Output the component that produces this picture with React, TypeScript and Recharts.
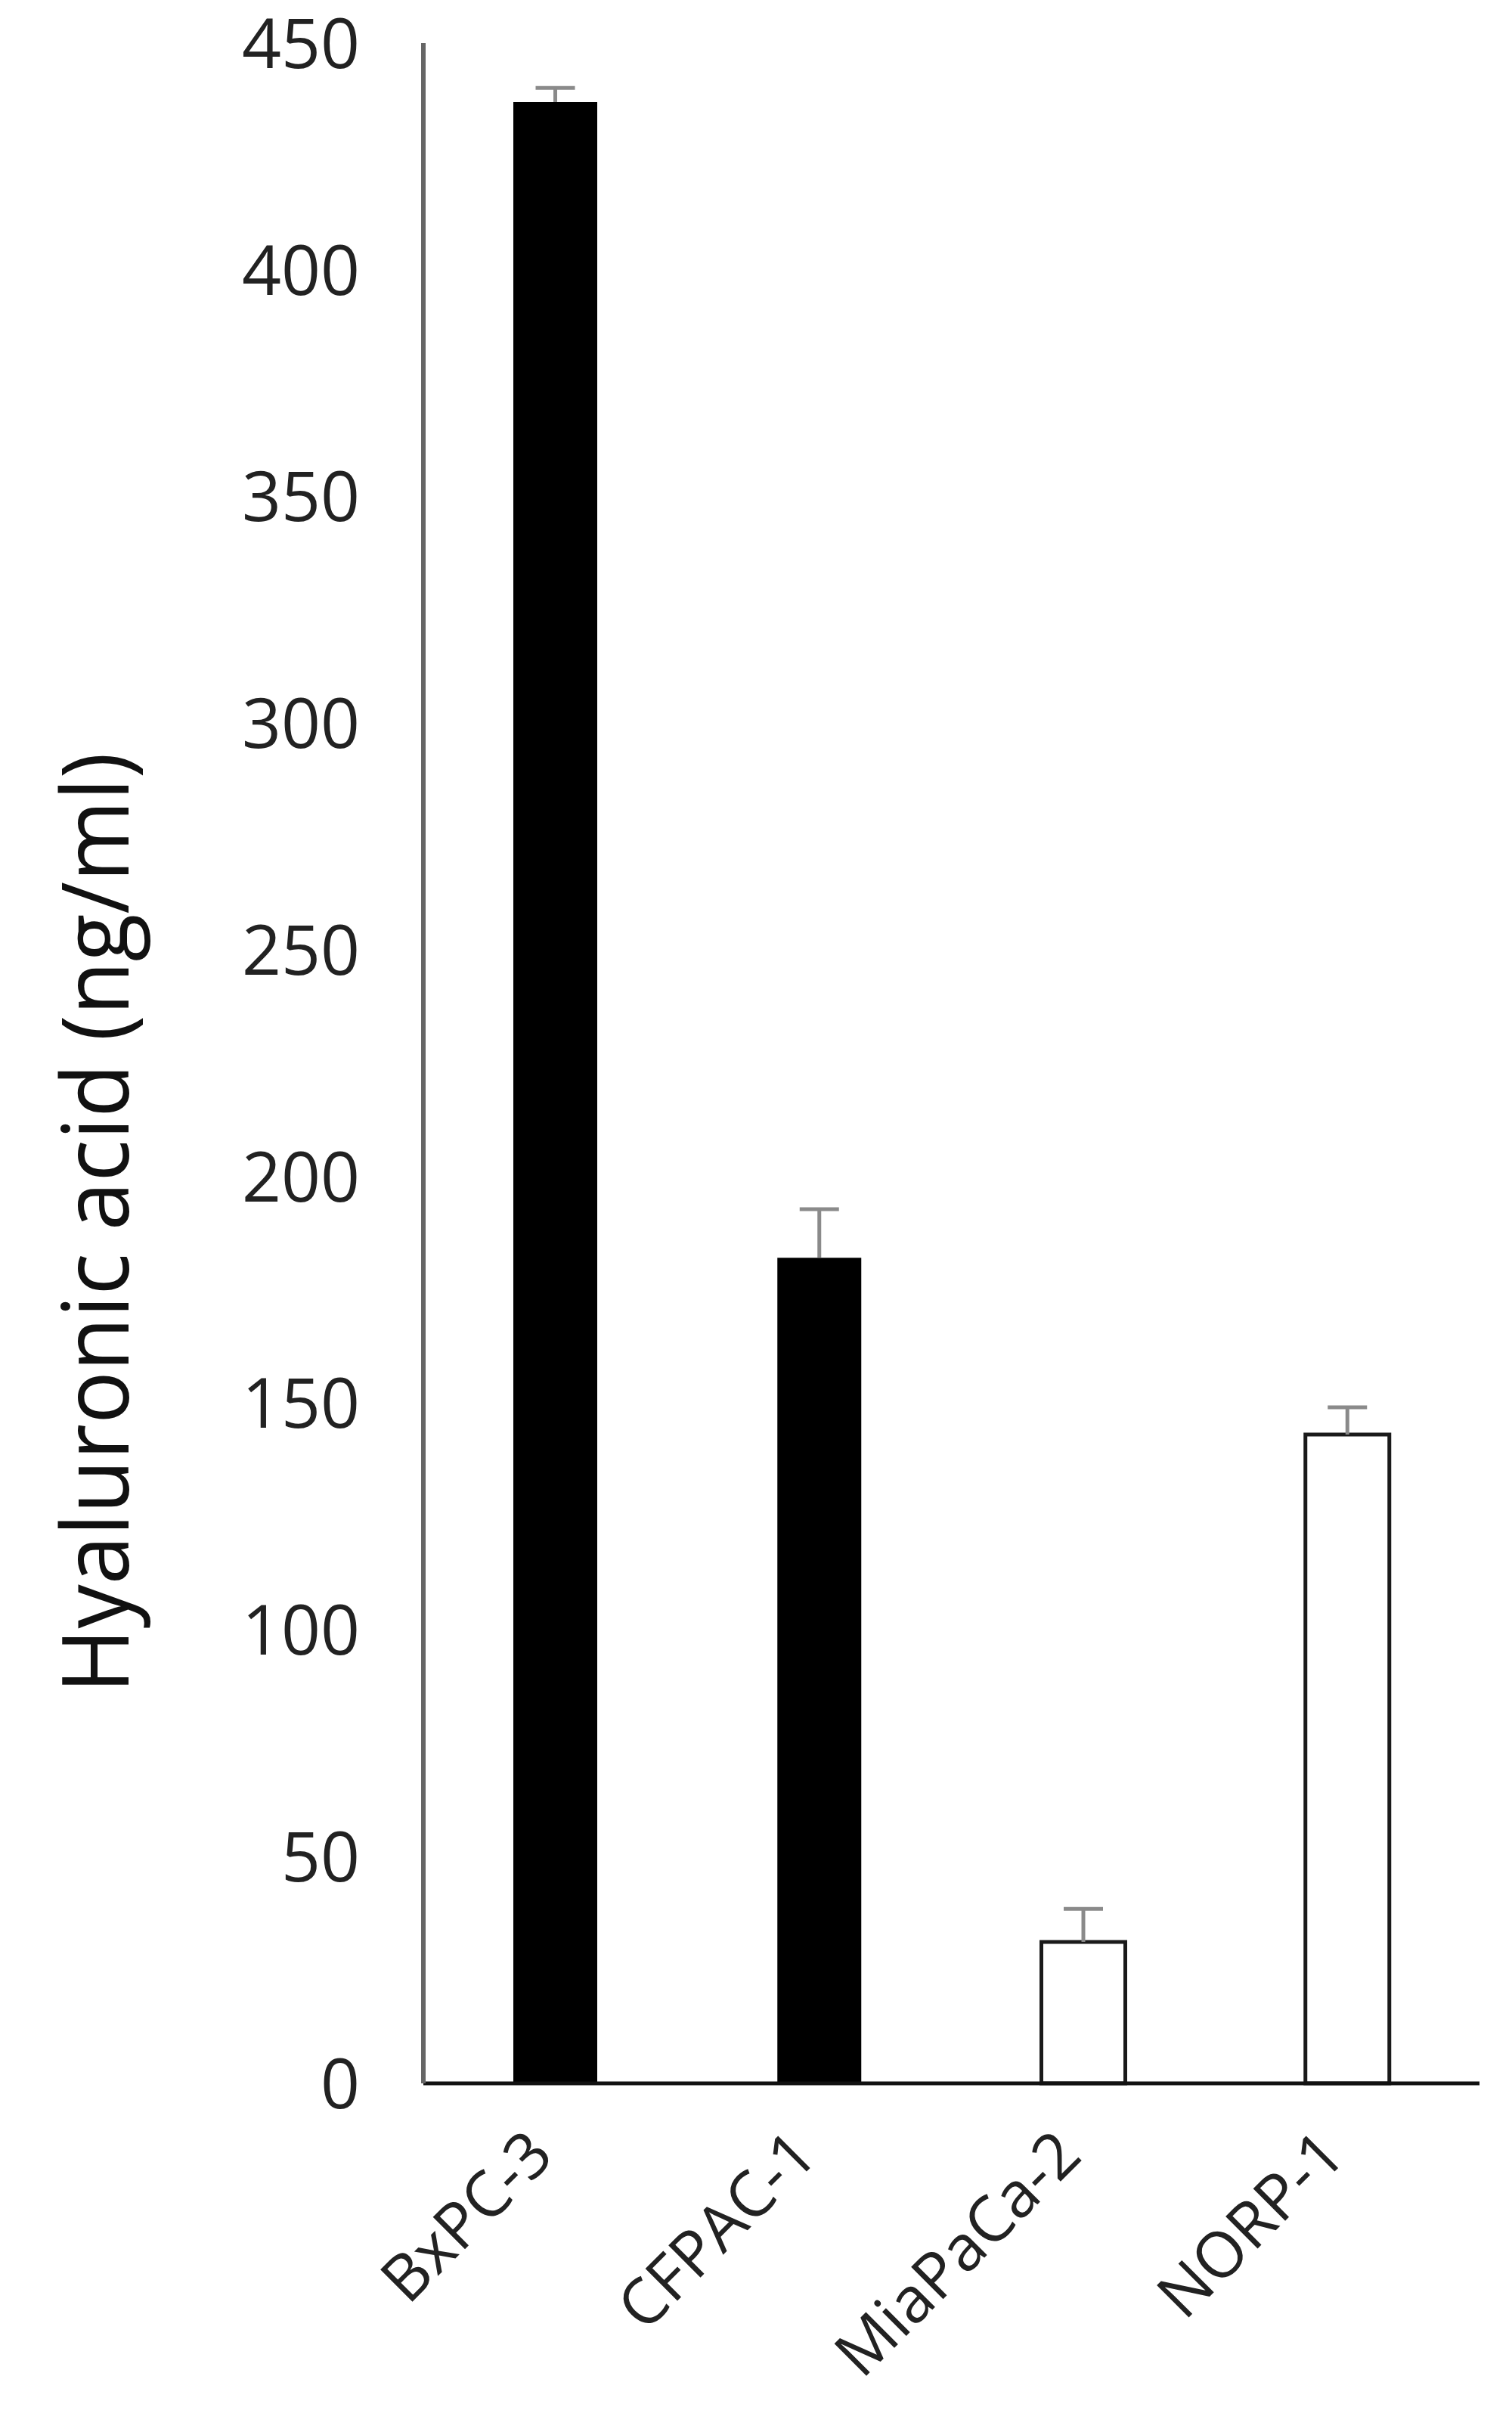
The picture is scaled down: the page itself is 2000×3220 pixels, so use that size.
import { Bar, BarChart, Cell, Label, XAxis, YAxis } from 'recharts'

const categories = ['BxPC-3', 'CFPAC-1', 'MiaPaCa-2', 'NORP-1']
const hyaluronic = [437.0, 182.1, 31.2, 143.1]
const errors = [3.1, 10.7, 7.3, 6.0]
const yTicks = [0, 50, 100, 150, 200, 250, 300, 350, 400, 450]

// first two lines are drawn solid, the last two hollow
const fills = ['#000000', '#000000', '#ffffff', '#ffffff']

const rows = categories.map((name, i) => ({
  name,
  value: hyaluronic[i],
  err: errors[i],
}))

const FONT = '"Open Sans", "Noto Sans", sans-serif'

// plus-only error bar, drawn as a stacked segment on top of the bar
function ErrorCap(props: any) {
  const { x, y, width, height } = props
  if (x == null || y == null) return null
  const cx = x + width / 2
  return (
    <g stroke="#8a8a8a" strokeWidth={5} fill="none">
      <line x1={cx} y1={y + height} x2={cx} y2={y} />
      <line x1={cx - 26} y1={y} x2={cx + 26} y2={y} />
    </g>
  )
}

function XTick(props: any) {
  const { x, y, payload } = props
  const px = x - 20
  const py = y + 78
  return (
    <text
      x={px}
      y={py}
      dy="0.35em"
      textAnchor="end"
      transform={`rotate(-45 ${px} ${py})`}
      fontFamily={FONT}
      fontSize={84}
      fill="#222"
    >
      {payload.value}
    </text>
  )
}

function YTick(props: any) {
  const { x, y, payload } = props
  return (
    <text
      x={x}
      y={y}
      dy="0.36em"
      textAnchor="end"
      fontFamily={FONT}
      fontSize={91}
      fill="#222"
    >
      {payload.value}
    </text>
  )
}

function YTitle(props: any) {
  const vb = props.viewBox || {}
  const tx = (vb.x ?? 0) + 170
  const ty = (vb.y ?? 0) + (vb.height ?? 0) / 2 + 211
  return (
    <text
      x={tx}
      y={ty}
      textAnchor="middle"
      transform={`rotate(-90 ${tx} ${ty})`}
      fontFamily={FONT}
      fontSize={122}
      fill="#111"
      textLength={1244}
      lengthAdjust="spacingAndGlyphs"
    >
      Hyaluronic acid (ng/ml)
    </text>
  )
}

export default function App() {
  return (
    <div style={{ position: 'absolute', left: 0, top: 0, background: '#fff' }}>
      <BarChart
        width={2000}
        height={3220}
        data={rows}
        margin={{ top: 57, right: 43, left: 0, bottom: 0 }}
      >
        <XAxis
          dataKey="name"
          height={465}
          tickLine={false}
          tickSize={0}
          tickMargin={0}
          axisLine={{ stroke: '#111', strokeWidth: 5 }}
          tick={<XTick />}
          interval={0}
        />
        <YAxis
          width={560}
          domain={[0, 450]}
          ticks={yTicks}
          interval={0}
          tickLine={false}
          tickSize={0}
          tickMargin={84}
          axisLine={{ stroke: '#666', strokeWidth: 6 }}
          tick={<YTick />}
        >
          <Label content={<YTitle />} position="insideLeft" />
        </YAxis>
        <Bar
          dataKey="value"
          stackId="a"
          barSize={111}
          isAnimationActive={false}
        >
          {rows.map((r, i) => (
            <Cell
              key={r.name}
              fill={fills[i]}
              stroke={i < 2 ? 'none' : '#1a1a1a'}
              strokeWidth={i < 2 ? 0 : 5}
            />
          ))}
        </Bar>
        <Bar
          dataKey="err"
          stackId="a"
          barSize={111}
          fill="none"
          shape={<ErrorCap />}
          isAnimationActive={false}
        />
      </BarChart>
    </div>
  )
}
